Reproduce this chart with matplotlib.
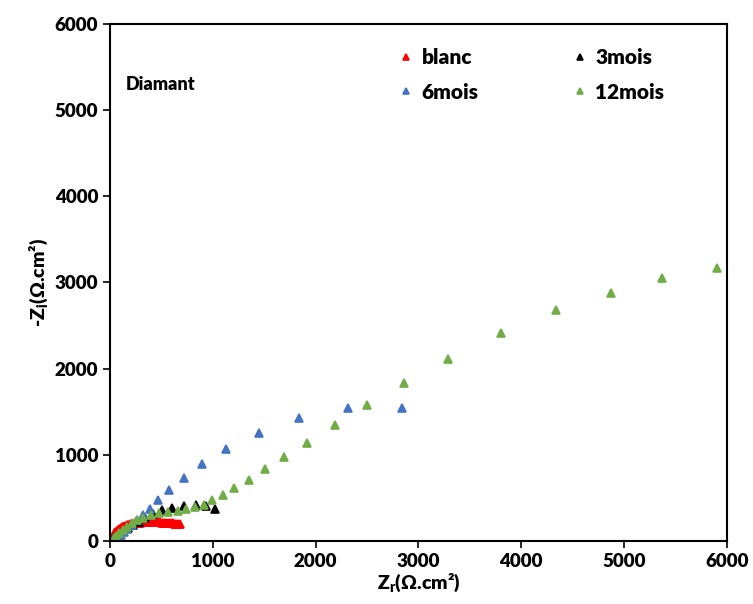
import numpy as np
import matplotlib
matplotlib.use("Agg")
import matplotlib.pyplot as plt

plt.rcParams['font.family'] = ['Lato', 'DejaVu Sans']
plt.rcParams['font.weight'] = 'heavy'
plt.rcParams['axes.labelweight'] = 'heavy'
plt.rcParams['mathtext.fontset'] = 'custom'
plt.rcParams['mathtext.bf'] = 'Lato:heavy'
plt.rcParams['mathtext.rm'] = 'Lato:heavy'

# blanc
zr_blanc = [10, 15, 20, 25, 30, 35, 40, 45, 52, 60, 68, 75, 85, 95, 105, 115, 128, 140,
            152, 165, 180, 195, 210, 225, 242, 260, 278, 295, 312, 330, 348, 365, 382,
            400, 418, 435, 452, 470, 488, 505, 522, 540, 558, 575, 592, 610, 628, 645,
            662, 680]
zi_blanc = [10, 20, 33, 45, 57, 68, 78, 88, 99, 110, 119, 128, 137, 145, 153, 160, 167,
            173, 179, 184, 189, 194, 198, 202, 206, 209, 212, 214, 216, 217, 218, 219,
            219, 219, 219, 218, 217, 216, 215, 213, 212, 210, 209, 207, 205, 204, 202,
            200, 199, 197]

# 3mois
zr_3 = [22, 40, 65, 95, 130, 175, 225, 280, 345, 422, 508, 608, 718, 834, 938, 1026]
zi_3 = [12, 30, 55, 85, 115, 150, 185, 225, 268, 313, 357, 387, 406, 414, 406, 375]

# 6mois
zr_6 = [45, 60, 80, 105, 135, 170, 210, 260, 317, 385, 470, 577, 716, 898, 1133, 1447,
        1835, 2312, 2840]
zi_6 = [10, 22, 42, 68, 100, 140, 185, 240, 302, 375, 472, 592, 731, 890, 1063, 1256,
        1430, 1547, 1543]

# 12mois
zr_12 = [25, 40, 60, 90, 125, 165, 210, 260, 317, 395, 479, 567, 657, 738, 825, 915,
         996, 1097, 1210, 1350, 1505, 1689, 1913, 2186, 2497, 2856, 3291, 3800, 4339,
         4874, 5367, 5901]
zi_12 = [12, 30, 55, 88, 125, 165, 205, 240, 267, 297, 321, 336, 352, 368, 391, 421,
         472, 534, 611, 708, 832, 975, 1141, 1346, 1582, 1833, 2115, 2410, 2684, 2881,
         3055, 3171]

fig = plt.figure(figsize=(7.53, 6.04), dpi=100)
ax = fig.add_axes([0.146, 0.1043, 0.8195, 0.856])

kw = dict(ms=5.5, mew=1.2, ls='none')
h1, = ax.plot(zr_blanc, zi_blanc, '^', color='#FF0000', label='blanc', **kw)
h2, = ax.plot(zr_3, zi_3, '^', color='black', label='3mois', **kw)
h3, = ax.plot(zr_6, zi_6, '^', color='#4472C4', label='6mois', **kw)
h4, = ax.plot(zr_12, zi_12, '^', color='#70AD47', label='12mois', **kw)
for h in (h1, h2, h3, h4):
    h.set_markeredgecolor(h.get_color())

ax.set_xlim(0, 6000)
ax.set_ylim(0, 6000)
ax.set_xticks(np.arange(0, 6001, 1000))
ax.set_yticks(np.arange(0, 6001, 1000))
ax.tick_params(labelsize=13.5, width=1.2, length=5, direction='out')
for s in ax.spines.values():
    s.set_linewidth(1.5)

ax.set_xlabel(r'Z$_\mathbf{r}$(Ω.cm²)', fontsize=14, fontweight='heavy', labelpad=1)
ax.set_ylabel(r'-Z$_\mathbf{i}$(Ω.cm²)', fontsize=14, fontweight='heavy', labelpad=3)

ax.text(0.025, 0.872, 'Diamant', transform=ax.transAxes, fontsize=13)

# excel fills the legend row by row
leg = ax.legend([h1, h3, h2, h4], ['blanc', '6mois', '3mois', '12mois'],
                ncol=2, loc='upper right', bbox_to_anchor=(0.9285, 0.99), frameon=False,
                fontsize=15, handletextpad=0.0, columnspacing=4.1, markerscale=0.85,
                labelspacing=0.75, handlelength=1.5)

fig.savefig('out.png', dpi=100)
